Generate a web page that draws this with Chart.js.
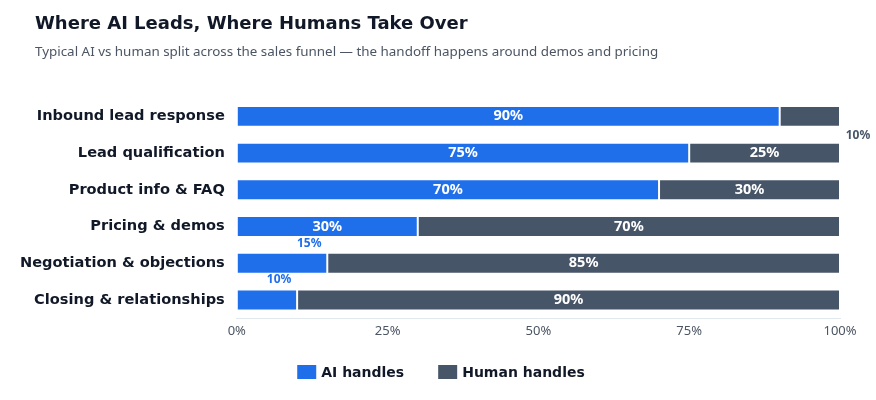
<!DOCTYPE html>
<html>
<head>
<meta charset="utf-8">
<script src="https://cdn.jsdelivr.net/npm/chart.js@4.4.1/dist/chart.umd.min.js"></script>
<style>
  html, body { margin: 0; padding: 0; background: #ffffff; }
  #wrap { width: 876px; height: 400px; position: relative; }
</style>
</head>
<body>
<div id="wrap"><canvas id="chart"></canvas></div>
<script>
const stages = ['Inbound lead response', 'Lead qualification', 'Product info & FAQ', 'Pricing & demos', 'Negotiation & objections', 'Closing & relationships'];
const aiShare = [90, 75, 70, 30, 15, 10];
const humanShare = [10, 25, 30, 70, 85, 90];
const xTicks = [0, 25, 50, 75, 100];

const titleText = 'Where AI Leads, Where Humans Take Over';
const subtitleText = 'Typical AI vs human split across the sales funnel \u2014 the handoff happens around demos and pricing';

const blue = '#1F6FEB';
const slate = '#475569';

// title + subtitle drawn at a fixed left inset
const headerPlugin = {
    id: 'header',
    beforeDraw(chart) {
        const ctx = chart.ctx;
        ctx.save();
        ctx.textAlign = 'left';
        ctx.textBaseline = 'alphabetic';
        ctx.fillStyle = '#111827';
        ctx.font = 'bold 18px "DejaVu Sans"';
        ctx.fillText(titleText, 35, 29);
        ctx.fillStyle = '#4B5563';
        ctx.font = '13.4px "Noto Sans"';
        ctx.fillText(subtitleText, 35, 56);
        ctx.restore();
    }
};

// legend at the bottom, wider gap between items than the built-in one allows
const bottomLegend = {
    id: 'bottomLegend',
    afterDraw(chart) {
        const ctx = chart.ctx;
        const boxW = 19, boxH = 14, gap = 5, itemGap = 34;
        const y = 372;
        ctx.save();
        ctx.font = 'bold 14px "DejaVu Sans"';
        ctx.textBaseline = 'middle';
        ctx.textAlign = 'left';
        const items = chart.data.datasets.map(ds => ({
            label: ds.label,
            color: ds.backgroundColor,
            w: boxW + gap + ctx.measureText(ds.label).width
        }));
        const total = items.reduce((s, it) => s + it.w, 0) + itemGap * (items.length - 1);
        let x = chart.width / 2 - total / 2 + 3;
        items.forEach(it => {
            ctx.fillStyle = it.color;
            ctx.fillRect(x, y - boxH / 2, boxW, boxH);
            ctx.fillStyle = '#111827';
            ctx.fillText(it.label, x + boxW + gap, y + 1);
            x += it.w + itemGap;
        });
        ctx.restore();
    }
};

// value labels: white inside wide segments, coloured outside for small ones
const valueLabels = {
    id: 'valueLabels',
    afterDatasetsDraw(chart) {
        const ctx = chart.ctx;
        ctx.save();
        ctx.textAlign = 'center';
        ctx.textBaseline = 'middle';
        chart.data.datasets.forEach((ds, di) => {
            const meta = chart.getDatasetMeta(di);
            meta.data.forEach((bar, i) => {
                const v = ds.data[i];
                const txt = v + '%';
                if (v >= 20) {
                    ctx.fillStyle = '#ffffff';
                    ctx.font = 'bold 14.5px "Noto Sans"';
                    ctx.fillText(txt, (bar.base + bar.x) / 2, bar.y);
                } else if (di === 0) {
                    ctx.fillStyle = blue;
                    ctx.font = 'bold 12px "Noto Sans"';
                    ctx.fillText(txt, bar.x - 18, bar.y - 20);
                } else {
                    ctx.fillStyle = slate;
                    ctx.font = 'bold 12px "Noto Sans"';
                    ctx.fillText(txt, bar.x + 18, bar.y + 19);
                }
            });
        });
        ctx.restore();
    }
};

new Chart(document.getElementById('chart'), {
    type: 'bar',
    data: {
        labels: stages,
        datasets: [{
            label: 'AI handles',
            data: aiShare,
            backgroundColor: blue,
            borderColor: '#ffffff',
            borderWidth: 1,
            borderSkipped: false
        }, {
            label: 'Human handles',
            data: humanShare,
            backgroundColor: slate,
            borderColor: '#ffffff',
            borderWidth: 1,
            borderSkipped: false
        }]
    },
    options: {
        indexAxis: 'y',
        responsive: true,
        maintainAspectRatio: false,
        animation: false,
        layout: {
            padding: { top: 98, left: 8, right: 36, bottom: 56 }
        },
        datasets: {
            bar: {
                categoryPercentage: 1,
                barPercentage: 0.57
            }
        },
        plugins: {
            legend: { display: false },
            tooltip: { enabled: false }
        },
        scales: {
            x: {
                stacked: true,
                min: 0,
                max: 100,
                afterBuildTicks(axis) {
                    axis.ticks = xTicks.map(v => ({ value: v }));
                },
                grid: { display: false, drawTicks: false },
                border: { display: true, color: '#E2E8F0' },
                ticks: {
                    color: '#4B5563',
                    padding: 5,
                    font: { family: 'Noto Sans', size: 13 },
                    callback: v => v + '%'
                }
            },
            y: {
                stacked: true,
                grid: { display: false, drawTicks: false },
                border: { display: false },
                ticks: {
                    color: '#111827',
                    padding: 12,
                    font: { family: 'DejaVu Sans', size: 14.6, weight: 'bold' }
                }
            }
        }
    },
    plugins: [headerPlugin, valueLabels, bottomLegend]
});
</script>
</body>
</html>
